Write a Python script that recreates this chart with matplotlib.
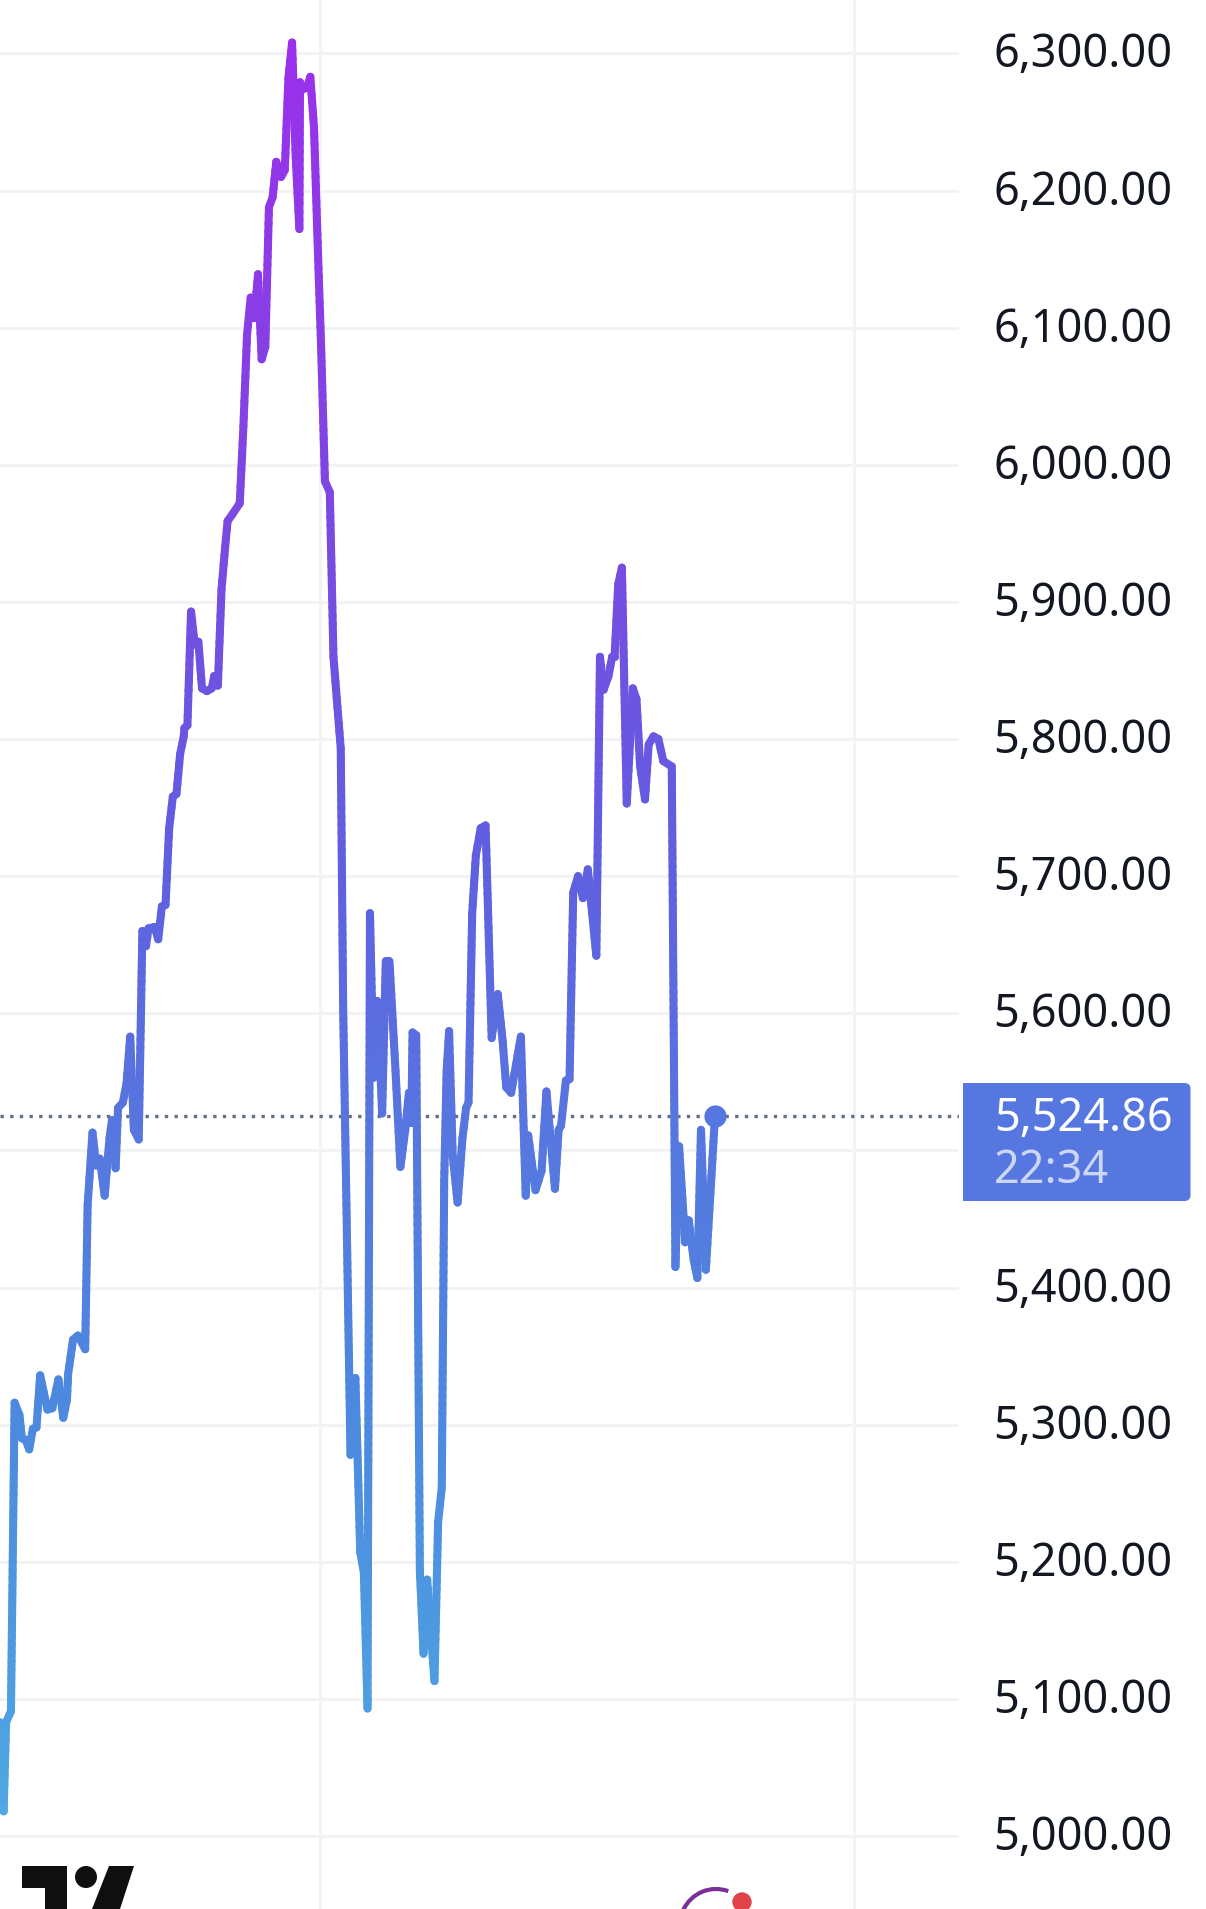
import numpy as np
import matplotlib
matplotlib.use('Agg')
import matplotlib.pyplot as plt
from matplotlib.collections import LineCollection
from matplotlib.colors import LinearSegmentedColormap, Normalize
from matplotlib.patches import Circle, FancyBboxPatch, Polygon, Rectangle, Arc
from matplotlib.transforms import ScaledTranslation

plt.rcParams['font.family'] = ['Noto Sans', 'DejaVu Sans']

# time position of each point on the chart's own x scale
times = [0, 3, 5, 9, 12, 16, 18, 21, 24, 27, 30, 33, 39, 43, 48, 52, 55, 56, 60, 64, 70, 72, 76, 79, 82, 86,
         90, 92, 95, 97, 101, 104, 107, 110, 114, 117, 120, 122, 127, 130, 133, 136, 139, 142, 145, 148, 151,
         151.5, 154, 157, 160, 163, 166, 170, 174, 176, 179, 182, 185, 187, 191, 197, 200, 203, 206, 209, 212,
         215, 218, 221, 224, 227, 231, 234, 237, 240, 243, 246, 246.5, 249, 252, 255, 258, 261, 264, 267, 271,
         274, 280, 282, 285, 288, 292, 296, 299, 302, 304, 307, 310, 314, 317, 320, 325, 329, 333, 336, 338,
         339, 342, 345, 348, 351, 354, 357, 360, 363, 365, 367, 369, 372, 376, 380, 383, 385, 388, 391, 395,
         399, 404, 409, 413, 416, 420, 428, 432, 434, 440, 445, 449, 456, 459, 461, 465, 468, 471, 475, 479,
         483, 490, 493, 496, 500, 503, 505, 508, 511, 515, 520, 523, 526, 530, 533, 537, 541, 545, 552, 555,
         558, 563, 566, 570, 573, 576, 580, 587.5]
prices = [5083, 5018, 5083, 5091, 5316, 5307, 5290, 5289, 5282, 5297, 5298, 5336, 5311, 5312, 5333, 5305, 5318,
          5337, 5362, 5365, 5355, 5460, 5513, 5489, 5494, 5467, 5509, 5522, 5487, 5531, 5535, 5549, 5583, 5515,
          5508, 5660, 5649, 5662, 5663, 5654, 5678, 5679, 5735, 5758, 5760, 5789, 5802, 5808, 5810, 5893, 5869,
          5871, 5837, 5835, 5837, 5846, 5839, 5909, 5940, 5959, 5964, 5972, 6028, 6095, 6122, 6107, 6139, 6077,
          6086, 6188, 6195, 6221, 6210, 6215, 6282, 6308, 6224, 6172, 6279, 6274, 6275, 6283, 6246, 6162, 6082,
          5988, 5980, 5860, 5793, 5602, 5442, 5278, 5334, 5207, 5192, 5093, 5673, 5553, 5609, 5527, 5638, 5638,
          5558, 5488, 5515, 5542, 5520, 5586, 5584, 5194, 5133, 5187, 5149, 5113, 5229, 5254, 5478, 5558, 5587,
          5496, 5462, 5509, 5531, 5535, 5673, 5715, 5735, 5737, 5582, 5614, 5580, 5546, 5542, 5583, 5467, 5511,
          5471, 5485, 5543, 5472, 5515, 5518, 5551, 5552, 5688, 5700, 5684, 5705, 5642, 5860, 5836, 5846, 5860,
          5860, 5913, 5925, 5753, 5837, 5829, 5780, 5756, 5796, 5802, 5800, 5784, 5780, 5415, 5503, 5433, 5449,
          5420, 5407, 5515, 5413, 5524.86]
last_price = 5524.86
countdown = '22:34'
grid_prices = [5000, 5100, 5200, 5300, 5400, 5500, 5600, 5700, 5800, 5900, 6000, 6100, 6200, 6300]
price_labels = ['5,000.00', '5,100.00', '5,200.00', '5,300.00', '5,400.00', '', '5,600.00', '5,700.00',
                '5,800.00', '5,900.00', '6,000.00', '6,100.00', '6,200.00', '6,300.00']
grid_times = [263, 702]

W, H = 1206, 1909
PANE_W = 959
GRID = '#f3f3f5'
BLUE = '#5677e0'
LABEL_SIZE = 32.4

fig = plt.figure(figsize=(W / 100, H / 100), dpi=100, facecolor='white')
ax = fig.add_axes([0, 0, PANE_W / W, 1])

# 1836 and 53.5 are the pixel rows of the 5000 and 6300 grid lines
per_px = 1300 / (1836 - 53.5)
ax.set_ylim(5000 - (H - 1836) * per_px, 5000 + 1836 * per_px)
ax.set_xlim(0, 788)

ax.yaxis.tick_right()
ax.set_yticks(grid_prices, price_labels)
ax.set_xticks(grid_times, [''] * len(grid_times))
ax.tick_params(length=0, labelsize=LABEL_SIZE, labelcolor='#131722')
ax.tick_params(axis='y', pad=24.8)
ax.grid(True, color=GRID, linewidth=2.2)
ax.set_axisbelow(True)
for s in ax.spines.values():
    s.set_visible(False)
# labels sit a little above their grid lines
nudge = ScaledTranslation(0, 3.5 / 100, fig.dpi_scale_trans)
for lab in ax.get_yticklabels():
    lab.set_transform(lab.get_transform() + nudge)

cmap = LinearSegmentedColormap.from_list('line', [
    (0.0, '#4fa9e3'), (0.23, '#4c8adf'), (0.385, '#5678df'), (0.54, '#5f60e0'),
    (0.77, '#7f45e2'), (1.0, '#9a30ec')])
norm = Normalize(5000, 6300)

# cut long strokes into short pieces so the colour follows the price
seg_list, seg_vals = [], []
for i in range(len(times) - 1):
    n = max(1, int(abs(prices[i + 1] - prices[i]) / 6))
    xs = np.linspace(times[i], times[i + 1], n + 1)
    ys = np.linspace(prices[i], prices[i + 1], n + 1)
    for j in range(n):
        seg_list.append([(xs[j], ys[j]), (xs[j + 1], ys[j + 1])])
        seg_vals.append((ys[j] + ys[j + 1]) / 2)
lc = LineCollection(seg_list, cmap=cmap, norm=norm, linewidths=5.8, capstyle='round', joinstyle='round', zorder=3)
lc.set_array(np.array(seg_vals))
ax.add_collection(lc)

ax.axhline(last_price, color='#667083', lw=2.4, dashes=(1, 1.9), zorder=2)
ax.plot(times[-1], last_price, 'o', ms=16, color=BLUE, mec='none', zorder=4)

# overlay in pixels for the price box and the two watermarks
ov = fig.add_axes([0, 0, 1, 1], facecolor='none')
ov.set_xlim(0, W)
ov.set_ylim(H, 0)
ov.axis('off')

ov.add_patch(Rectangle((963, 1083), 20, 118, fc=BLUE, ec='none'))
ov.add_patch(FancyBboxPatch((970, 1083), 220.5, 118, boxstyle='round,pad=0,rounding_size=6', fc=BLUE, ec='none'))
ov.text(994, 1119, f'{last_price:,.2f}', color='white', fontsize=LABEL_SIZE, va='center', ha='left')
ov.text(994, 1171, countdown, color='#ccd6f5', fontsize=LABEL_SIZE, va='center', ha='left')

# TradingView mark, cut by the bottom edge
ov.add_patch(Polygon([(22, 1866), (67, 1866), (67, 1909), (45, 1909), (45, 1888), (22, 1888)], fc='#0f0f0f', ec='none'))
ov.add_patch(Circle((86, 1877), 11, fc='#0f0f0f', ec='none'))
ov.add_patch(Polygon([(109, 1866), (134, 1866), (120, 1909), (92, 1909)], fc='#0f0f0f', ec='none'))

ov.add_patch(Arc((716, 1925), 72, 72, theta1=205, theta2=290, color='#7b2f9b', lw=3))
ov.add_patch(Circle((742, 1902), 9.7, fc='#e0444a', ec='none'))

fig.savefig('out.png', dpi=100, facecolor='white')
